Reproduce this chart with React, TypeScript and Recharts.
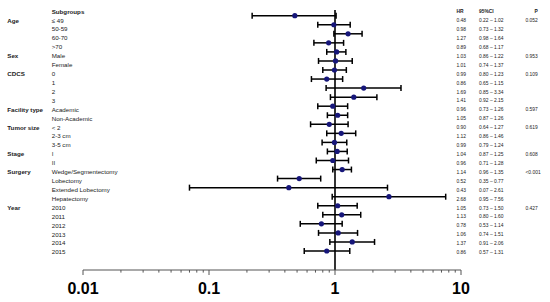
import React from "react";
import {
  ScatterChart,
  Scatter,
  XAxis,
  YAxis,
  ErrorBar,
  ReferenceLine,
} from "recharts";

const rowGroups = [
  "Age", "", "", "",
  "Sex", "",
  "CDCS", "", "", "",
  "Facility type", "",
  "Tumor size", "", "",
  "Stage", "",
  "Surgery", "", "", "",
  "Year", "", "", "", "", "",
];

const subgroups = [
  "≤ 49", "50-59", "60-70", ">70",
  "Male", "Female",
  "0", "1", "2", "3",
  "Academic", "Non-Academic",
  "< 2", "2-3 cm", "3-5 cm",
  "I", "II",
  "Wedge/Segmentectomy", "Lobectomy", "Extended Lobectomy", "Hepatectomy",
  "2010", "2011", "2012", "2013", "2014", "2015",
];

const hr = [
  0.48, 0.98, 1.27, 0.89,
  1.03, 1.01,
  0.99, 0.86, 1.69, 1.41,
  0.96, 1.05,
  0.9, 1.12, 0.99,
  1.04, 0.96,
  1.14, 0.52, 0.43, 2.68,
  1.05, 1.13, 0.78, 1.06, 1.37, 0.86,
];

const ciLow = [
  0.22, 0.73, 0.98, 0.68,
  0.86, 0.74,
  0.8, 0.65, 0.85, 0.92,
  0.73, 0.87,
  0.64, 0.86, 0.79,
  0.87, 0.71,
  0.96, 0.35, 0.07, 0.95,
  0.73, 0.8, 0.53, 0.74, 0.91, 0.57,
];

const ciHigh = [
  1.02, 1.32, 1.64, 1.17,
  1.22, 1.37,
  1.23, 1.15, 3.34, 2.15,
  1.26, 1.26,
  1.27, 1.46, 1.24,
  1.25, 1.28,
  1.35, 0.77, 2.61, 7.56,
  1.5, 1.6, 1.14, 1.51, 2.06, 1.31,
];

const pValues = [
  "0.052", "", "", "",
  "0.953", "",
  "0.109", "", "", "",
  "0.597", "",
  "0.619", "", "",
  "0.608", "",
  "<0.001", "", "", "",
  "0.427", "", "", "", "", "",
];

const xTicks = [
  0.01, 0.02, 0.03, 0.04, 0.05, 0.06, 0.07, 0.08, 0.09,
  0.1, 0.2, 0.3, 0.4, 0.5, 0.6, 0.7, 0.8, 0.9,
  1, 2, 3, 4, 5, 6, 7, 8, 9, 10,
];
const xLabels = [0.01, 0.1, 1, 10];

const rows = hr.map((v, i) => ({
  y: i,
  x: v,
  err: [v - ciLow[i], ciHigh[i] - v],
}));

const rowIdx = rows.map((r) => r.y);

const FONT = "'Liberation Sans', Arial, sans-serif";
const TXT = "#222";

// narrow-ish text for the HR / CI / P columns
const NarrowText = ({ x, y, children, bold }: any) => (
  <g transform={`translate(${x},${y}) scale(0.82,1)`}>
    <text
      x={0}
      y={0}
      fontFamily={FONT}
      fontSize={6}
      fontWeight={bold ? 700 : 400}
      fill={TXT}
      dominantBaseline="central"
    >
      {children}
    </text>
  </g>
);

const LeftText = ({ x, y, children, bold }: any) => (
  <text
    x={x}
    y={y}
    fontFamily={FONT}
    fontSize={6.2}
    fontWeight={bold ? 700 : 400}
    fill={TXT}
    dominantBaseline="central"
  >
    {children}
  </text>
);

const RowTick = (props: any) => {
  const { y, payload } = props;
  const i = payload.value as number;
  const ty = y + 4.3 - 0.13 * i;
  return (
    <g>
      {i === 0 && (
        <g>
          <LeftText x={51.7} y={ty - 8.9} bold>
            Subgroups
          </LeftText>
          <NarrowText x={456.5} y={ty - 8.9} bold>
            HR
          </NarrowText>
          <NarrowText x={479} y={ty - 8.9} bold>
            95%CI
          </NarrowText>
          <NarrowText x={534.5} y={ty - 8.9} bold>
            P
          </NarrowText>
        </g>
      )}
      {rowGroups[i] && (
        <LeftText x={7.3} y={ty} bold>
          {rowGroups[i]}
        </LeftText>
      )}
      <LeftText x={51.7} y={ty}>
        {subgroups[i]}
      </LeftText>
      <NarrowText x={456.5} y={ty}>
        {hr[i].toFixed(2)}
      </NarrowText>
      <NarrowText x={479} y={ty}>
        {`${ciLow[i].toFixed(2)} – ${ciHigh[i].toFixed(2)}`}
      </NarrowText>
      {pValues[i] && (
        <NarrowText x={525.5} y={ty}>
          {pValues[i]}
        </NarrowText>
      )}
    </g>
  );
};

const LogTick = (props: any) => {
  const { x, y, payload } = props;
  const v = payload.value as number;
  const major = xLabels.includes(v);
  return (
    <g>
      <line x1={x} y1={y} x2={x} y2={y + (major ? 5 : 2.6)} stroke="#555" strokeWidth={1} />
      {major && (
        <text
          x={x}
          y={y + 24}
          textAnchor="middle"
          fontFamily={FONT}
          fontSize={16}
          fontWeight={700}
          fill="#000"
        >
          {String(v)}
        </text>
      )}
    </g>
  );
};

const Marker = (props: any) => {
  const { cx, cy } = props;
  return <circle cx={cx} cy={cy} r={2.6} fill="#16167a" />;
};

export default function App() {
  return (
    <div
      style={{
        position: "absolute",
        left: 0,
        top: 0,
        width: 550,
        height: 302,
        background: "#fff",
      }}
    >
      <ScatterChart
        width={550}
        height={302}
        margin={{ top: 10, right: 89, bottom: 2, left: 0 }}
      >
        <XAxis
          dataKey="x"
          type="number"
          scale="log"
          domain={[0.01, 10]}
          allowDataOverflow
          ticks={xTicks}
          interval={0}
          tickSize={0}
          tickMargin={0}
          height={30}
          tick={<LogTick />}
          axisLine={{ stroke: "#555", strokeWidth: 1 }}
          tickLine={false}
        />
        <YAxis
          dataKey="y"
          type="number"
          domain={[-0.63, 28.1]}
          reversed
          ticks={rowIdx}
          interval={0}
          width={83}
          axisLine={false}
          tickLine={false}
          tick={<RowTick />}
        />
        <ReferenceLine x={1} stroke="#000" strokeWidth={1.6} />
        <Scatter data={rows} shape={<Marker />} isAnimationActive={false}>
          <ErrorBar
            dataKey="err"
            direction="x"
            width={3}
            stroke="#000"
            strokeWidth={1.5}
            isAnimationActive={false}
          />
        </Scatter>
      </ScatterChart>
    </div>
  );
}
